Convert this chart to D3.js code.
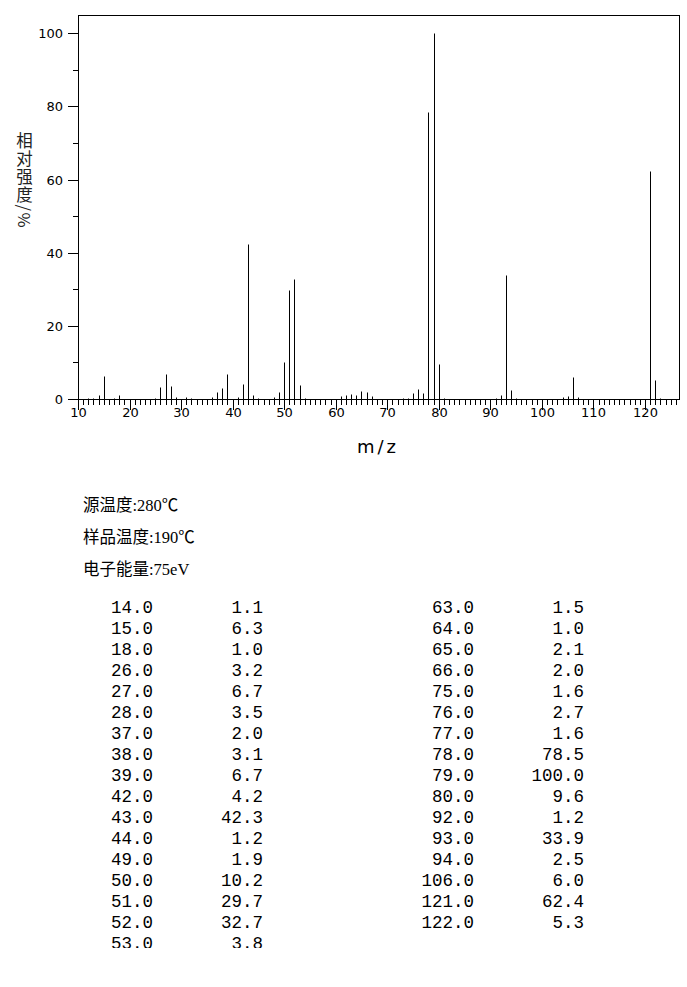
<!DOCTYPE html>
<html>
<head>
<meta charset="utf-8">
<script src="https://cdn.jsdelivr.net/npm/d3@7"></script>
<style>
  body { margin: 0; background: #fff; }
  svg { display: block; }
</style>
</head>
<body>
<div id="chart"></div>
<script>
// peaks listed in the table (m/z, relative intensity %)
var mz = [14,15,18,26,27,28,37,38,39,42,43,44,49,50,51,52,53,
          63,64,65,66,75,76,77,78,79,80,92,93,94,106,121,122];
var intensity = [1.1,6.3,1.0,3.2,6.7,3.5,2.0,3.1,6.7,4.2,42.3,1.2,1.9,10.2,29.7,32.7,3.8,
                 1.5,1.0,2.1,2.0,1.6,2.7,1.6,78.5,100.0,9.6,1.2,33.9,2.5,6.0,62.4,5.3];

// small peaks seen only in the plot
var smallMz = [12,13,17,25,29,31,32,36,41,45,48,54,61,62,67,73,74,81,91,95,104,105,107,123];
var smallInt = [0.4,0.4,0.4,0.4,0.6,0.6,0.3,0.6,0.6,0.4,0.6,0.4,0.7,1.0,0.8,0.4,0.4,0.4,0.4,0.4,0.5,0.7,0.6,0.3];

var xMajor = [10,20,30,40,50,60,70,80,90,100,110,120];
var xMinor = d3.range(10, 127, 1);
var yMajor = [0,20,40,60,80,100];
var yMinor = [10,30,50,70,90];

var infoLines = ["源温度:280℃", "样品温度:190℃", "电子能量:75eV"];
var yTitle = "相对强度/%";

var W = 687, H = 987;

var svg = d3.select("#chart").append("svg")
    .attr("width", W)
    .attr("height", H);

var x = d3.scaleLinear().domain([10, 126.6]).rangeRound([78, 679]);
var y = d3.scaleLinear().domain([0, 105]).rangeRound([399, 15]);

// frame
svg.append("rect")
    .attr("x", 78.5).attr("y", 15.5)
    .attr("width", 601).attr("height", 384)
    .attr("fill", "none").attr("stroke", "#000");

// x axis: minor then major ticks
svg.append("g")
    .attr("transform", "translate(0," + y(0) + ")")
    .call(d3.axisBottom(x).tickValues(xMinor).tickSize(6).tickSizeOuter(0).tickFormat(""));
var gxMajor = svg.append("g")
    .attr("transform", "translate(0," + y(0) + ")")
    .call(d3.axisBottom(x).tickValues(xMajor).tickSize(11).tickSizeOuter(0).tickFormat(d3.format("d")));
gxMajor.selectAll("text").attr("y", 9);

// y axis
svg.append("g")
    .attr("transform", "translate(" + x(10) + ",0)")
    .call(d3.axisLeft(y).tickValues(yMinor).tickSize(5).tickSizeOuter(0).tickFormat(""));
svg.append("g")
    .attr("transform", "translate(" + x(10) + ",0)")
    .call(d3.axisLeft(y).tickValues(yMajor).tickSize(10).tickSizeOuter(0).tickPadding(5).tickFormat(d3.format("d")));

svg.selectAll(".domain").attr("stroke", "#000");
svg.selectAll(".tick line").attr("stroke", "#000");
svg.selectAll(".tick text")
    .attr("fill", "#000")
    .style("font-family", "DejaVu Sans")
    .style("font-size", "13px");

// peaks
var peaks = mz.map(function(d, i) { return [d, intensity[i]]; })
    .concat(smallMz.map(function(d, i) { return [d, smallInt[i]]; }));

svg.append("g").selectAll("line")
    .data(peaks)
  .enter().append("line")
    .attr("x1", function(d) { return x(d[0]) + 0.5; })
    .attr("x2", function(d) { return x(d[0]) + 0.5; })
    .attr("y1", y(0) + 0.5)
    .attr("y2", function(d) { return y(d[1]) + 0.5; })
    .attr("stroke", "#000")
    .attr("stroke-width", 1);

// axis titles
svg.append("text")
    .attr("x", 378).attr("y", 453)
    .attr("text-anchor", "middle")
    .style("font-family", "DejaVu Sans")
    .style("font-size", "18px")
    .style("letter-spacing", "3px")
    .text("m/z");

svg.append("text")
    .attr("x", 24.5).attr("y", 132)
    .attr("fill", "#222")
    .style("writing-mode", "vertical-rl")
    .style("font-family", "Noto Sans CJK SC")
    .style("font-size", "16.5px")
    .style("letter-spacing", "1.6px")
    .text(yTitle);

// instrument info
svg.append("g").selectAll("text")
    .data(infoLines)
  .enter().append("text")
    .attr("x", 83)
    .attr("y", function(d, i) { return 511 + i * 32; })
    .style("font-family", "'Liberation Serif', 'Noto Sans CJK SC'")
    .style("font-size", "16.5px")
    .text(function(d) { return d; });

// peak table, clipped at the bottom like the original
svg.append("clipPath").attr("id", "tclip")
  .append("rect").attr("x", 0).attr("y", 590).attr("width", W).attr("height", 358);

var table = svg.append("g").attr("clip-path", "url(#tclip)")
    .style("font-family", "'Liberation Mono'")
    .style("font-size", "17.5px");

var nLeft = 17;
var rows = mz.map(function(d, i) {
  return { mz: d, v: intensity[i], col: i < nLeft ? 0 : 1, row: i < nLeft ? i : i - nLeft };
});
var colMzX = [153, 474];
var colVX = [263, 584];

table.selectAll("text.m")
    .data(rows)
  .enter().append("text")
    .attr("class", "m")
    .attr("x", function(d) { return colMzX[d.col]; })
    .attr("y", function(d) { return 613 + d.row * 21; })
    .attr("text-anchor", "end")
    .text(function(d) { return d.mz.toFixed(1); });

table.selectAll("text.v")
    .data(rows)
  .enter().append("text")
    .attr("class", "v")
    .attr("x", function(d) { return colVX[d.col]; })
    .attr("y", function(d) { return 613 + d.row * 21; })
    .attr("text-anchor", "end")
    .text(function(d) { return d.v.toFixed(1); });
</script>
</body>
</html>
